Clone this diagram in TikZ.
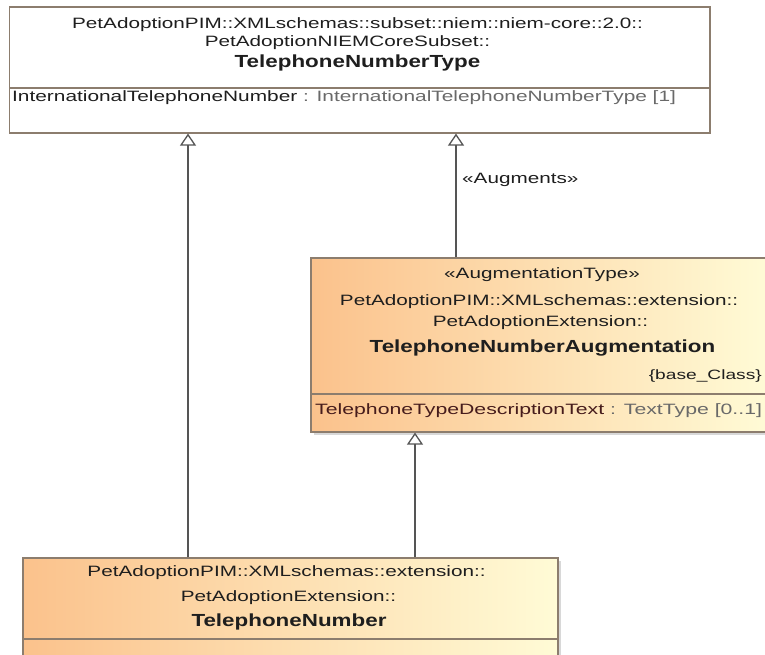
\documentclass[tikz,border=0pt]{standalone}
\usepackage{fontspec}
\usepackage{graphicx}
\setmainfont{Liberation Sans}
\usetikzlibrary{arrows.meta,shadows}
\definecolor{bordc}{RGB}{140,125,110}
\definecolor{linec}{RGB}{85,85,85}
\definecolor{orangeL}{RGB}{251,194,140}
\definecolor{yellowR}{RGB}{255,251,214}
\definecolor{txtc}{RGB}{30,30,30}
\definecolor{typec}{RGB}{105,105,105}
\definecolor{attrc}{RGB}{70,28,28}
\newcommand\regtext[1]{\scalebox{1.38}[1]{\fontsize{15pt}{15pt}\selectfont #1}}
\newcommand\attrtext[1]{\scalebox{1.39}[1]{\fontsize{15pt}{15pt}\selectfont #1}}
\newcommand\attrwide[1]{\scalebox{1.415}[1]{\fontsize{15pt}{15pt}\selectfont #1}}
\newcommand\boldtext[1]{\scalebox{1.28}[1]{\fontsize{17.5pt}{17.5pt}\selectfont\bfseries #1}}
\newcommand\smalltext[1]{\scalebox{1.42}[1]{\fontsize{13.5pt}{13.5pt}\selectfont #1}}
\begin{document}
\begin{tikzpicture}[x=1pt,y=-1pt,
  classbox/.style={draw=bordc, line width=1.2pt, rectangle, inner sep=0pt},
  orangebox/.style={classbox, left color=orangeL, right color=yellowR,
     drop shadow={shadow xshift=3pt, shadow yshift=-3pt, fill=black!30}},
  whitebox/.style={classbox, fill=white},
  sepline/.style={draw=bordc, line width=1.2pt},
  gen/.style={draw=linec, line width=1.3pt, -{Triangle[length=12pt,width=16pt,fill=white]}},
  lbl/.style={inner sep=0pt, text=txtc},
]
\useasboundingbox (0,0) rectangle (765,654);
\clip (0,0) rectangle (765,654);
\fill[white] (0,0) rectangle (765,654);

% boxes
\node[whitebox, minimum width=700.5pt, minimum height=126pt] (top) at (359.75,70) {};
\node[orangebox, minimum width=457pt, minimum height=174pt] (mid) at (539.5,345) {};
\node[orangebox, minimum width=535pt, minimum height=130pt] (bot) at (290.5,623) {};

% compartment separators
\draw[sepline] (9.5,88) -- (710,88);
\draw[sepline] (311,394) -- (768,394);
\draw[sepline] (23,639) -- (558,639);

% top box texts
\node[lbl] (t1) at (357.5,25) {\regtext{PetAdoptionPIM::XMLschemas::subset::niem::niem-core::2.0::}};
\node[lbl] (t2) at (347.5,43) {\regtext{PetAdoptionNIEMCoreSubset::}};
\node[lbl] (t3) at (357.5,63) {\boldtext{TelephoneNumberType}};
\node[lbl, anchor=west] (t4) at (12,98) {\attrtext{InternationalTelephoneNumber \textcolor{typec}{: InternationalTelephoneNumberType [1]}}};

% middle box texts
\node[lbl] (m1) at (542,275) {\regtext{«AugmentationType»}};
\node[lbl] (m2) at (539,302) {\regtext{PetAdoptionPIM::XMLschemas::extension::}};
\node[lbl] (m3) at (540.5,323) {\regtext{PetAdoptionExtension::}};
\node[lbl] (m4) at (542.5,348) {\boldtext{TelephoneNumberAugmentation}};
\node[lbl, anchor=east] (m5) at (762,376) {\smalltext{\{base\_Class\}}};
\node[lbl, anchor=west] (m6) at (315,411) {\attrwide{\textcolor{attrc}{TelephoneTypeDescriptionText} \textcolor{typec}{: TextType [0..1]}}};

% bottom box texts
\node[lbl] (b1) at (286.5,573) {\regtext{PetAdoptionPIM::XMLschemas::extension::}};
\node[lbl] (b2) at (288.5,598) {\regtext{PetAdoptionExtension::}};
\node[lbl] (b3) at (289,622) {\boldtext{TelephoneNumber}};

% connector x positions
\coordinate (xa) at (188,0);
\coordinate (xb) at (456,0);
\coordinate (xc) at (415,0);

% generalizations
\draw[gen] (bot.north -| xa) -- (top.south -| xa);
\draw[gen] (mid.north -| xb) -- (top.south -| xb);
\draw[gen] (bot.north -| xc) -- (mid.south -| xc);

\node[lbl, anchor=west] (aug) at (462,180) {\regtext{«Augments»}};
\end{tikzpicture}
\end{document}
